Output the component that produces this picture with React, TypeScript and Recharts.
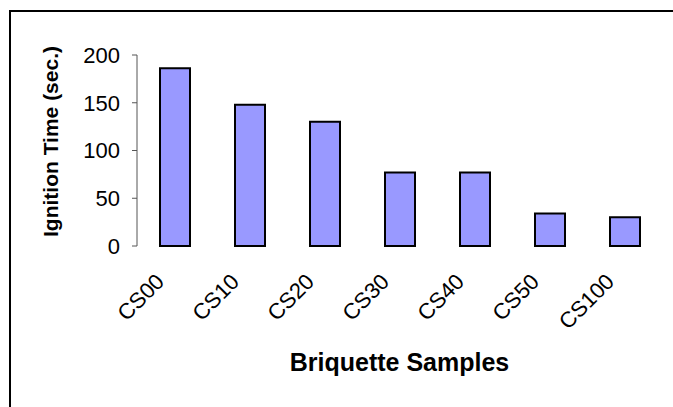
import React from 'react';
import { BarChart, Bar, XAxis, YAxis } from 'recharts';

const samples = ['CS00', 'CS10', 'CS20', 'CS30', 'CS40', 'CS50', 'CS100'];
const ignitionTimes = [186, 148, 130, 77, 77, 34, 30];
const yTicks = [0, 50, 100, 150, 200];
const boundaryTicks = [0, 1, 2, 3, 4, 5, 6, 7];

const data = samples.map((name, i) => ({ name, time: ignitionTimes[i] }));

const FONT = '"Liberation Sans", Arial, sans-serif';

// rotated category label, end anchored under the bar
const SampleTick = ({ x, y, payload }: any) => {
  const ax = x - 9;
  const ay = y + 37;
  return (
    <text
      x={ax}
      y={ay}
      transform={`rotate(-45, ${ax}, ${ay})`}
      textAnchor="end"
      fontFamily={FONT}
      fontSize={22}
      fill="#000"
    >
      {payload.value}
    </text>
  );
};

const YTitle = (props: any) => {
  const vb = props.viewBox;
  const x = vb.x + 58;
  const y = vb.y + vb.height / 2 - 9;
  return (
    <text
      x={x}
      y={y}
      transform={`rotate(-90, ${x}, ${y})`}
      textAnchor="middle"
      fontFamily={FONT}
      fontSize={21}
      fontWeight="bold"
      fill="#000"
    >
      Ignition Time (sec.)
    </text>
  );
};

const XTitle = (props: any) => {
  const vb = props.viewBox;
  return (
    <text
      x={vb.x + vb.width / 2}
      y={vb.y + 125}
      textAnchor="middle"
      fontFamily={FONT}
      fontSize={25}
      fontWeight="bold"
      fill="#000"
    >
      Briquette Samples
    </text>
  );
};

export default function App() {
  return (
    <div style={{ position: 'absolute', left: 0, top: 0, width: 673, height: 407, background: '#fff', overflow: 'hidden' }}>
      <div
        style={{
          position: 'absolute',
          left: 9,
          top: 10,
          width: 700,
          height: 420,
          borderTop: '2px solid #000',
          borderLeft: '2px solid #000',
        }}
      />
      <div style={{ position: 'absolute', left: 0, top: 0 }}>
        <BarChart width={673} height={407} data={data} margin={{ top: 55, right: 11, left: 0, bottom: 0 }} barSize={30}>
          <XAxis
            xAxisId="grid"
            type="number"
            domain={[0, 7]}
            ticks={boundaryTicks}
            allowDataOverflow
            tick={false}
            tickSize={6}
            height={0}
            stroke="#555"
          />
          <XAxis
            xAxisId="cat"
            dataKey="name"
            height={161}
            axisLine={false}
            tickLine={false}
            tickSize={0}
            tickMargin={0}
            interval={0}
            tick={<SampleTick />}
            label={XTitle}
          />
          <YAxis
            width={137}
            domain={[0, 200]}
            ticks={yTicks}
            interval={0}
            tickSize={5}
            tickMargin={12}
            stroke="#555"
            tick={{ fill: '#000', fontSize: 22, fontFamily: FONT }}
            label={YTitle}
          />
          <Bar xAxisId="cat" dataKey="time" fill="#9999FF" stroke="#000" strokeWidth={2} isAnimationActive={false} />
        </BarChart>
      </div>
    </div>
  );
}
